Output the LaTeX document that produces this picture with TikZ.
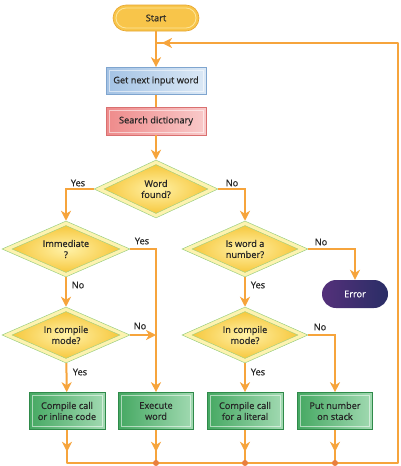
\documentclass[tikz,border=0pt]{standalone}
\usepackage{fontspec}
\setmainfont{Open Sans}[FakeBold=0.6]
\usetikzlibrary{arrows.meta,shapes.geometric,calc}
\definecolor{lineor}{HTML}{F6A43C}
\definecolor{dotor}{HTML}{E9803F}
\definecolor{dband}{HTML}{FDF3B0}
\definecolor{dline}{HTML}{9ACF80}
\definecolor{dgold}{HTML}{F5C02A}
\definecolor{dlight}{HTML}{FFF2A8}
\definecolor{gdark}{HTML}{45A862}
\definecolor{glight}{HTML}{A2DAB2}
\definecolor{gborder}{HTML}{2F8A4A}
\definecolor{bdark}{HTML}{A3C2E4}
\definecolor{blight}{HTML}{DCE9F6}
\definecolor{bborder}{HTML}{7FA5CF}
\definecolor{pdark}{HTML}{EE8A8A}
\definecolor{plight}{HTML}{F9CACA}
\definecolor{pborder}{HTML}{D97070}
\definecolor{sfill}{HTML}{F8C54A}
\definecolor{slight}{HTML}{FCE59A}
\definecolor{sborder}{HTML}{E6A52E}
\definecolor{edark}{HTML}{54307A}
\definecolor{eblue}{HTML}{2A2E66}
\tikzset{
  txt/.style={font=\fontsize{9.2}{11}\selectfont, align=center, text=black!85},
  flow/.style={draw=lineor, line width=2pt, -{Stealth[length=10pt,width=10pt,inset=3pt]}},
  plain/.style={draw=lineor, line width=2pt},
  lbl/.style={font=\fontsize{9.2}{10}\selectfont, inner sep=0pt, text=black!85},
  decision/.style={txt, shape=diamond, inner sep=0pt, minimum width=#1, minimum height=56pt,
    shape aspect=2.2, fill=dband, draw=dline, line width=0.5pt,
    path picture={\shadedraw[draw=dline, line width=0.4pt, inner color=dlight, outer color=dgold]
      ([xshift=10pt]path picture bounding box.west) -- ([yshift=-4.5pt]path picture bounding box.north)
      -- ([xshift=-10pt]path picture bounding box.east) -- ([yshift=4.5pt]path picture bounding box.south) -- cycle;}},
  bevel/.style={path picture={\draw[white, opacity=0.55, line width=0.6pt]
      ([shift={(3pt,-3pt)}]path picture bounding box.north west) rectangle
      ([shift={(-3pt,3pt)}]path picture bounding box.south east);}},
  action/.style={txt, rectangle, minimum width=76pt, minimum height=37pt, inner sep=1pt,
    left color=gdark, right color=glight, draw=gborder, line width=0.6pt, bevel},
  procblue/.style={txt, rectangle, minimum width=100pt, minimum height=27pt, inner sep=1pt,
    left color=bdark, right color=blight, draw=bborder, line width=0.6pt, bevel},
  procpink/.style={txt, rectangle, minimum width=100pt, minimum height=28pt, inner sep=1pt,
    left color=pdark, right color=plight, draw=pborder, line width=0.6pt, bevel},
  jdot/.style={circle, fill=dotor, inner sep=0pt, minimum size=6pt},
}
\begin{document}
\begin{tikzpicture}[x=1pt,y=-1pt]
\useasboundingbox (0,0) rectangle (400,466);
% nodes
\node[txt, rounded corners=13pt, minimum width=86pt, minimum height=26pt, fill=sfill, draw=sborder, line width=0.6pt,
  path picture={\draw[slight, line width=0.8pt, rounded corners=10pt]
      ([shift={(3pt,-3pt)}]path picture bounding box.north west) rectangle
      ([shift={(-3pt,3pt)}]path picture bounding box.south east);}] (start) at (156,18) {Start};
\node[procblue] (get) at (156,81) {Get next input word};
\node[procpink] (search) at (156,121) {Search dictionary};
\node[decision=124pt, minimum height=58pt] (wf) at (156,189) {Word\\found?};
\node[decision=128pt] (imm) at (66,249) {Immediate\\?};
\node[decision=128pt] (icm1) at (66,335) {In compile\\mode?};
\node[decision=126pt] (num) at (245,249) {Is word a\\number?};
\node[decision=126pt] (icm2) at (245,335) {In compile\\mode?};
\node[txt, text=white, rounded corners=14pt, minimum width=66pt, minimum height=28pt,
  left color=edark, right color=eblue] (err) at (355,294) {Error};
\node[action] (c1) at (67,411) {Compile call\\or inline code};
\node[action, minimum width=75pt] (ex) at (156,411) {Execute\\word};
\node[action] (c2) at (245,411) {Compile call\\for a literal};
\node[action, minimum width=75pt] (put) at (335,411) {Put number\\on stack};
% loop coordinates
\coordinate (bl) at (67,463);
\coordinate (br) at (398,463);
\coordinate (tr) at (398,43);
\coordinate (tl) at (156,43);
\coordinate (exin) at (156,249);
\coordinate (exin2) at (156,335);
% connectors
\draw[flow] (start) -- (get);
\draw[plain] (get) -- (search);
\draw[flow] (search) -- (wf);
\draw[flow] (wf.west) -| (imm.north);
\draw[flow] (wf.east) -| (num.north);
\draw[flow] (imm) -- (icm1);
\draw[plain] (imm.east) -- (exin) -- (exin2);
\draw[flow] (exin2) -- (ex.north);
\draw[flow] (icm1.east) -- (exin2);
\draw[flow] (icm1) -- (c1);
\draw[flow] (num.east) -| (err.north);
\draw[flow] (num) -- (icm2);
\draw[flow] (icm2) -- (c2);
\draw[flow] (icm2.east) -| (put.north);
% bottom return loop
\draw[plain, line join=round] (c1.south) -- (bl) -- (br) -- (tr) -- (tl);
\draw[flow, shorten >=6pt] (tr) -- (tl);
\foreach \b in {c1,ex,c2,put}{
  \draw[plain] (\b.south) -- (\b.south |- bl);
  \draw[flow] (\b.south) -- ([yshift=-22pt]\b.south);
}
\node[jdot] (d1) at (ex.south |- bl) {};
\node[jdot] (d2) at (c2.south |- bl) {};
\node[jdot] (d3) at (put.south |- bl) {};
% labels
\node[lbl] (l1) at (78,183) {Yes};
\node[lbl] (l2) at (232,183) {No};
\node[lbl] (l3) at (142,241) {Yes};
\node[lbl] (l4) at (78,285) {No};
\node[lbl] (l5) at (140,326) {No};
\node[lbl] (l6) at (80,372) {Yes};
\node[lbl] (l7) at (321,242) {No};
\node[lbl] (l8) at (258,285) {Yes};
\node[lbl] (l9) at (320,327) {No};
\node[lbl] (l10) at (258,372) {Yes};
\end{tikzpicture}
\end{document}
